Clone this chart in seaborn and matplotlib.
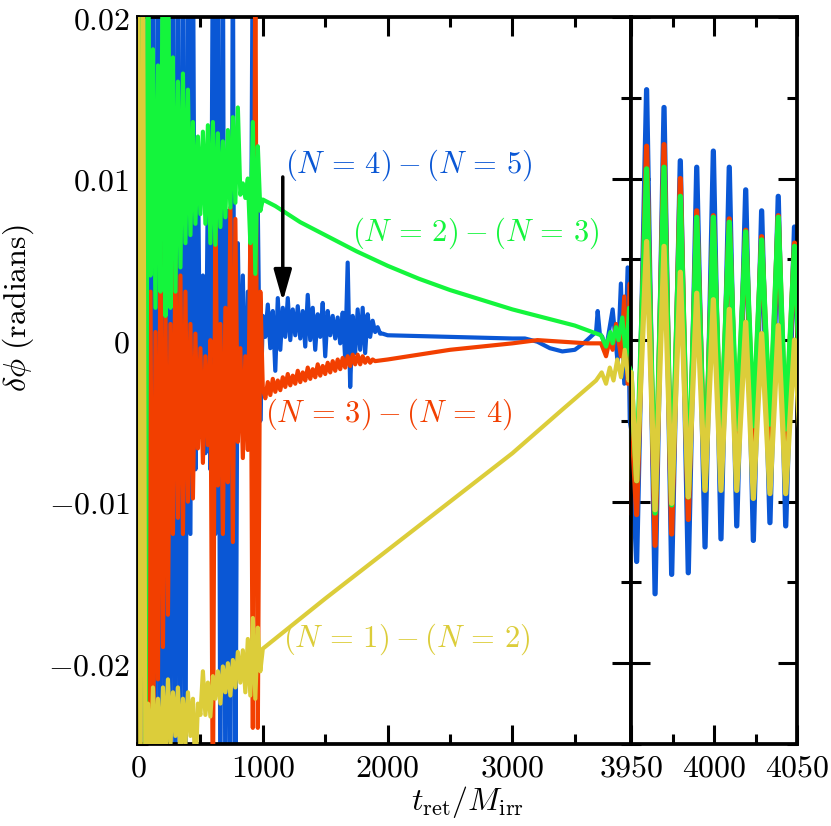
import matplotlib
matplotlib.use("Agg")
import matplotlib.pyplot as plt
from matplotlib.ticker import MultipleLocator
import seaborn as sns

sns.set_style("ticks")
plt.rcParams["mathtext.fontset"] = "cm"
plt.rcParams["font.family"] = ["DejaVu Serif"]
plt.rcParams.update({"axes.edgecolor": "black", "xtick.color": "black",
                     "ytick.color": "black", "text.color": "black",
                     "axes.labelcolor": "black"})

c_blue = "#0a57d5"
c_orange = "#f23f00"
c_green = "#14f53c"
c_yellow = "#dccd3a"

# ---- early noisy burst, t = 0..1000 (values beyond the axes are clipped) ----
t_burst = [0, 20, 40, 60, 80, 100, 120, 140, 160, 180, 200, 220, 240, 260, 280, 300,
           320, 340, 360, 380, 400, 420, 440, 460, 480, 500, 520, 540, 560, 580, 600,
           620, 640, 660, 680, 700, 720, 740, 760, 780, 800, 820, 840, 860, 880, 900,
           920, 940, 960, 980, 1000]
blue_burst = [0.026, -0.03, 0.026, -0.03, 0.026, -0.03, 0.026, -0.03, 0.026, -0.03, 0.026,
              -0.03, 0.026, -0.03, 0.026, -0.03, 0.026, -0.03, 0.026, -0.03, 0.026, -0.012,
              0.026, -0.008, 0.012, -0.006, 0.004, -0.007, 0.010, -0.008, 0.026, -0.012,
              0.026, -0.03, 0.026, -0.03, 0.008, -0.03, 0.026, -0.03, 0.006, -0.004, 0.004,
              -0.005, 0.003, -0.004, 0.026, -0.012, 0.008, -0.005, 0.0015]
orange_burst = [-0.002, -0.002, -0.002, 0.002, -0.03, 0.003, -0.03, 0.0005, -0.021,
                0.0062, -0.019, 0.002, -0.017, 0.001, -0.012, 0.0054, -0.011, 0.004,
                -0.012, 0.003, -0.010, 0.001, -0.0098, 0.0004, -0.0067, -0.0005, -0.0076,
                -0.001, -0.0065, 0.000, -0.03, 0.0093, -0.009, 0.001, -0.012, 0.002,
                -0.0088, 0.0082, -0.0125, 0.0075, -0.0063, -0.0005, -0.0073, -0.001,
                -0.0068, 0.0064, -0.024, 0.026, -0.024, 0.003, -0.0030]
green_burst = [0.011, 0.011, 0.026, -0.03, 0.026, 0.004, 0.018, 0.002, 0.017, 0.003, 0.026,
               0.0015, 0.026, 0.002, 0.0175, 0.003, 0.016, 0.0045, 0.0165, 0.006, 0.0155,
               0.0065, 0.0135, 0.0072, 0.0126, 0.0078, 0.0129, 0.0072, 0.0133, 0.0060,
               0.0135, 0.0059, 0.0128, 0.0070, 0.0123, 0.0076, 0.0130, 0.0082, 0.0138,
               0.0085, 0.0144, 0.0090, 0.0097, 0.0088, 0.0100, 0.0060, 0.0135, 0.0041,
               0.0120, 0.0080, 0.0087]
yellow_burst = [0.026, -0.03, 0.026, -0.03, -0.0225, -0.027, -0.0215, -0.026, -0.0222,
                -0.027, -0.0215, -0.026, -0.021, -0.025, -0.0218, -0.0245, -0.0215,
                -0.026, -0.0222, -0.025, -0.0218, -0.0245, -0.0222, -0.027, -0.0225,
                -0.0232, -0.0205, -0.0232, -0.0212, -0.0233, -0.0208, -0.0222, -0.0205,
                -0.0225, -0.0202, -0.0218, -0.0200, -0.0220, -0.0198, -0.0215, -0.0193,
                -0.0212, -0.0192, -0.0218, -0.0185, -0.0220, -0.0172, -0.0222, -0.0178,
                -0.0205, -0.0191]

# ---- settling noise, t = 1000..1960 ----
t_blue_settle = [1020, 1040, 1060, 1080, 1100, 1120, 1140, 1160, 1180, 1200, 1220, 1240,
                 1260, 1280, 1300, 1320, 1340, 1360, 1380, 1400, 1420, 1440, 1460, 1480,
                 1500, 1520, 1540, 1560, 1580, 1600, 1620, 1640, 1660, 1680, 1700, 1720,
                 1740, 1760, 1780, 1800, 1820, 1840, 1860, 1880, 1900, 1920, 1940, 1960]
blue_settle = [0.0002, 0.0022, -0.0005, 0.0018, -0.0019, 0.0026, -0.0006, 0.0020, 0.0002,
               0.0026, 0.0000, 0.0019, 0.0003, 0.0021, 0.0001, 0.0018, -0.0004, 0.0028,
               0.0000, 0.0020, -0.0006, 0.0016, 0.0002, 0.0023, -0.0010, 0.0018, 0.0003,
               0.0015, 0.0001, 0.0014, -0.0002, 0.0017, -0.0012, 0.0048, -0.0029, 0.0015,
               -0.0008, 0.0019, -0.0006, 0.0020, -0.0008, 0.0016, 0.0002, 0.0012, 0.0005,
               0.0008, 0.0004, 0.0004]
t_orange_settle = [1020, 1040, 1060, 1080, 1100, 1120, 1140, 1160, 1180, 1200, 1220, 1240,
                   1260, 1280, 1300, 1320, 1340, 1360, 1380, 1400, 1420, 1440, 1460, 1480,
                   1500, 1520, 1540, 1560, 1580, 1600, 1620, 1640, 1660, 1680, 1700, 1720,
                   1740, 1760, 1780, 1800, 1820, 1840, 1860, 1880, 1900]
orange_settle = [-0.0036, -0.0026, -0.0034, -0.0024, -0.0032, -0.0025, -0.0031, -0.0023,
                 -0.0029, -0.0021, -0.0028, -0.0022, -0.0027, -0.0019, -0.0026, -0.0020,
                 -0.0025, -0.0017, -0.0024, -0.0018, -0.0023, -0.0015, -0.0022, -0.0016,
                 -0.0021, -0.0014, -0.0020, -0.0013, -0.0019, -0.0012, -0.0018, -0.0011,
                 -0.0017, -0.0010, -0.0016, -0.0009, -0.0015, -0.0009, -0.0015, -0.0010,
                 -0.0014, -0.0011, -0.0014, -0.0012, -0.0013]

# ---- smooth drift and pre-merger wiggles, t = 1000..3950 ----
t_blue_late = [2000, 2500, 3000, 3100, 3200, 3300, 3400, 3500, 3570, 3640, 3670, 3683,
               3700, 3720, 3749, 3803, 3843, 3869, 3896, 3923, 3940]
blue_late = [0.0003, 0.0002, 0.0001, 0.0001, -0.0001, -0.0005, -0.0007, -0.0006, -0.0002,
             0.0003, 0.0005, 0.0018, 0.0004, 0.0002, -0.0006, 0.0019, -0.0014, 0.0035,
             -0.0027, 0.0045, -0.0050]
t_orange_late = [2000, 2250, 2500, 2750, 3000, 3200, 3400, 3600, 3710, 3750, 3785, 3803,
                 3830, 3869, 3896, 3923, 3940]
orange_late = [-0.0012, -0.0009, -0.0006, -0.0004, -0.0002, 0.0000, -0.0001, -0.0002,
               -0.0002, -0.0010, 0.0002, -0.0006, 0.0010, -0.0010, 0.0027, -0.0027, 0.0035]
t_green_late = [1100, 1200, 1300, 1500, 1750, 2000, 2250, 2500, 2750, 3000, 3250, 3500,
                3710, 3750, 3785, 3803, 3830, 3850, 3880, 3910, 3935]
green_late = [0.0083, 0.0078, 0.0073, 0.0065, 0.0055, 0.0046, 0.0038, 0.0031, 0.0025,
              0.0019, 0.0014, 0.0009, 0.0003, -0.0004, 0.0005, -0.0002, 0.0008, 0.0000,
              0.0014, -0.0010, 0.0020]
t_yellow_late = [1500, 2000, 2500, 3000, 3400, 3670, 3715, 3750, 3780, 3810, 3840, 3870,
                 3900, 3930]
yellow_late = [-0.0160, -0.0130, -0.0100, -0.0070, -0.0043, -0.0025, -0.0020, -0.0027,
               -0.0017, -0.0025, -0.0012, -0.0023, -0.0006, -0.0025]

# ---- ringdown-like oscillation, t = 3950..4050 ----
t_wave = [3950, 3953.4, 3959.4, 3964.5, 3969.9, 3974.5, 3979.7, 3984.5, 3989.6, 3994.6,
          3999.6, 4004.2, 4009.2, 4013.7, 4019.1, 4023.7, 4028.7, 4033.7, 4038.7, 4043.2,
          4048.5, 4053]
blue_wave = [-0.0055, -0.0137, 0.0155, -0.0157, 0.0144, -0.0145, 0.0111, -0.0144, 0.0107,
             -0.0128, 0.0117, -0.0123, 0.0107, -0.0115, 0.0093, -0.0124, 0.0080, -0.0113,
             0.0089, -0.0115, 0.0070, -0.0080]
orange_wave = [-0.0040, -0.0108, 0.0120, -0.0127, 0.0121, -0.0120, 0.0100, -0.0111, 0.0080,
               -0.0092, 0.0077, -0.0072, 0.0075, -0.0066, 0.0068, -0.0064, 0.0064, -0.0062,
               0.0077, -0.0065, 0.0060, -0.0060]
green_wave = [-0.0020, -0.0087, 0.0106, -0.0107, 0.0107, -0.0102, 0.0089, -0.0097, 0.0076,
              -0.0091, 0.0076, -0.0065, 0.0073, -0.0055, 0.0067, -0.0053, 0.0062, -0.0052,
              0.0076, -0.0055, 0.0058, -0.0050]
yellow_wave = [-0.0020, -0.0087, 0.0061, -0.0105, 0.0058, -0.0101, 0.0042, -0.0097, 0.0029,
               -0.0093, 0.0025, -0.0093, 0.0019, -0.0093, 0.0011, -0.0098, 0.0004, -0.0095,
               0.0009, -0.0095, 0.0000, -0.0080]

series = [
    ("blue", c_blue, t_burst + t_blue_settle + t_blue_late + t_wave,
     blue_burst + blue_settle + blue_late + blue_wave),
    ("orange", c_orange, t_burst + t_orange_settle + t_orange_late + t_wave,
     orange_burst + orange_settle + orange_late + orange_wave),
    ("green", c_green, t_burst + t_green_late + t_wave,
     green_burst + green_late + green_wave),
    ("yellow", c_yellow, t_burst + t_yellow_late + t_wave,
     yellow_burst + yellow_late + yellow_wave),
]

W, H = 831, 826
fig = plt.figure(figsize=(W / 100, H / 100), dpi=100)
ax1 = fig.add_axes([138 / W, 1 - 744 / H, (631 - 138) / W, (744 - 17) / H])
ax2 = fig.add_axes([631 / W, 1 - 744 / H, (797 - 631) / W, (744 - 17) / H])

for z, (name, col, tt, vv) in enumerate(series):
    sns.lineplot(x=tt, y=vv, ax=ax1, color=col, lw=3.0, sort=False, estimator=None,
                 zorder=2 + z)
    sns.lineplot(x=tt, y=vv, ax=ax2, color=col, lw=3.8, sort=False, estimator=None,
                 zorder=2 + z)
    ax2.lines[-1].set_solid_joinstyle("round")

FS = 23
ylo, yhi = -0.025, 0.02
ax1.set_xlim(0, 3950)
ax2.set_xlim(3950, 4050)
for ax in (ax1, ax2):
    ax.set_ylim(ylo, yhi)
    ax.yaxis.set_major_locator(MultipleLocator(0.01))
    ax.yaxis.set_minor_locator(MultipleLocator(0.005))
    ax.tick_params(which="both", direction="in", top=True, right=True, left=True,
                   bottom=True, width=2.2, colors="black", labelsize=FS, pad=6)
    ax.tick_params(which="major", length=14)
    ax.tick_params(which="minor", length=7.5)
    for s in ax.spines.values():
        s.set_linewidth(2.7)
        s.set_color("black")
        s.set_visible(True)
    ax.set_xlabel("")
    ax.set_ylabel("")

ax1.set_xticks([0, 1000, 2000, 3000], ["$0$", "$1000$", "$2000$", "$3000$"])
ax1.xaxis.set_minor_locator(MultipleLocator(500))
ax1.set_yticks([-0.02, -0.01, 0, 0.01, 0.02],
               ["$-0.02$", "$-0.01$", "$0$", "$0.01$", "$0.02$"])
ax2.set_xticks([3950, 4000, 4050], ["$3950$", "$4000$", "$4050$"])
ax2.xaxis.set_minor_locator(MultipleLocator(25))
ax2.set_yticks([-0.02, -0.01, 0, 0.01, 0.02])
ax2.tick_params(labelleft=False)
ax1.set_ylim(ylo, yhi)
ax2.set_ylim(ylo, yhi)

ax1.set_ylabel(r"$\delta\phi\ \mathrm{(radians)}$", fontsize=FS, color="black")
ax1.yaxis.set_label_coords(-0.207, 0.6)
fig.text(467 / W, 1 - 802 / H, r"$t_{\rm ret}/M_{\rm irr}$", fontsize=FS,
         ha="center", va="center", color="black")

ax1.text(1176, 0.0108, r"$(N\,=\,4)-(N\,=\,5)$", color=c_blue, fontsize=22,
         va="center", zorder=10)
ax1.text(1712, 0.0066, r"$(N\,=\,2)-(N\,=\,3)$", color=c_green, fontsize=22,
         va="center", zorder=10)
ax1.text(1016, -0.0046, r"$(N\,=\,3)-(N\,=\,4)$", color=c_orange, fontsize=22,
         va="center", zorder=10)
ax1.text(1160, -0.0185, r"$(N\,=\,1)-(N\,=\,2)$", color=c_yellow, fontsize=22,
         va="center", zorder=10)
ax1.annotate("", xy=(1160, 0.0024), xytext=(1160, 0.0101),
             arrowprops=dict(arrowstyle="-|>,head_length=0.95,head_width=0.27",
                             lw=2.5, color="k", mutation_scale=20, shrinkA=0, shrinkB=0),
             zorder=11)

fig.savefig("out.png", dpi=100)
